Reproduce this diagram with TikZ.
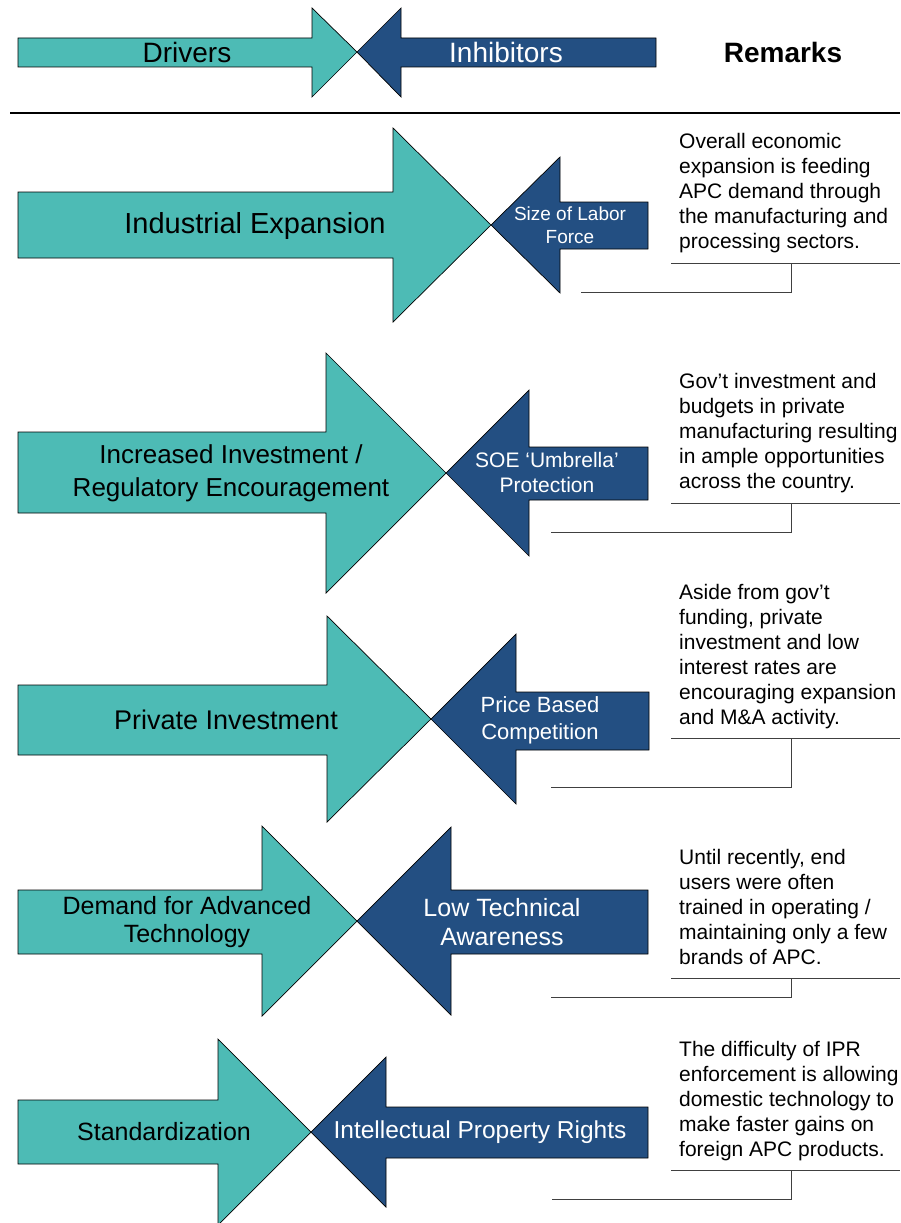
\documentclass[tikz,border=0pt]{standalone}
\usepackage{fontspec}
\setmainfont{Liberation Sans}
\usepackage{xcolor}
\usepackage{tikz}
\usetikzlibrary{positioning}

\definecolor{drvteal}{RGB}{77,187,181}
\definecolor{inhnavy}{RGB}{35,79,130}

\begin{document}
\begin{tikzpicture}[
    x=1pt, y=-1pt,
    drvshape/.style={fill=drvteal, draw=black, line width=0.7pt, line join=miter},
    inhshape/.style={fill=inhnavy, draw=black, line width=0.7pt, line join=miter},
    drvlabel/.style={text=black, align=center, inner sep=0},
    inhlabel/.style={text=white, align=center, inner sep=0},
    remark/.style={anchor=north west, align=left, inner sep=0, font=\fontsize{21}{25}\selectfont},
    bracket/.style={draw=black!75, line width=1pt}
]
    \useasboundingbox (0,0) rectangle (900,1223);

    % header
    \draw[drvshape] (18,38) -- (312,38) -- (312,8) -- (357,52) -- (312,97) -- (312,67) -- (18,67) -- cycle;
    \draw[inhshape] (656,38) -- (401,38) -- (401,8) -- (357,52) -- (401,97) -- (401,67) -- (656,67) -- cycle;
    \node[drvlabel, font=\fontsize{28}{30}\selectfont] (drivers) at (187,52) {Drivers};
    \node[inhlabel, font=\fontsize{28}{30}\selectfont] (inhibitors) at (506,52) {Inhibitors};
    \node[font=\fontsize{28}{30}\selectfont\bfseries, inner sep=0] (remarks) at (783,52) {Remarks};
    \draw[line width=1.2pt] (10,113) -- (900,113);

    % industrial expansion
    \draw[drvshape] (18,192) -- (393,192) -- (393,128) -- (491,225) -- (393,322) -- (393,258) -- (18,258) -- cycle;
    \draw[inhshape] (648,202) -- (560,202) -- (560,157) -- (491,225) -- (560,293) -- (560,249) -- (648,249) -- cycle;
    \node[drvlabel, font=\fontsize{29}{32}\selectfont] (industry) at (255,226) {Industrial Expansion};
    \node[inhlabel, font=\fontsize{19}{23}\selectfont] (labor) at (570,225) {Size of Labor\\Force};
    \node[remark] (remindustry) at (679,133) {Overall economic\\expansion is feeding\\APC demand through\\the manufacturing and\\processing sectors.};
    \draw[bracket] (671,263) -- (900,263) (791,263) -- (791,292) -- (581,292);

    % investment / regulation
    \draw[drvshape] (18,432) -- (326,432) -- (326,353) -- (446,473) -- (326,593) -- (326,513) -- (18,513) -- cycle;
    \draw[inhshape] (648,447) -- (529,447) -- (529,390) -- (446,473) -- (529,556) -- (529,500) -- (648,500) -- cycle;
    \node[drvlabel, font=\fontsize{26}{33}\selectfont] (regul) at (231,473) {Increased Investment /\\Regulatory Encouragement};
    \node[inhlabel, font=\fontsize{21}{25}\selectfont] (soe) at (547,472) {SOE `Umbrella'\\Protection};
    \node[remark] (remregul) at (679,373) {Gov't investment and\\budgets in private\\manufacturing resulting\\in ample opportunities\\across the country.};
    \draw[bracket] (671,503) -- (900,503) (791,503) -- (791,532) -- (551,532);

    % private investment
    \draw[drvshape] (18,685) -- (327,685) -- (327,616) -- (431,719) -- (327,822) -- (327,755) -- (18,755) -- cycle;
    \draw[inhshape] (649,692) -- (516,692) -- (516,634) -- (431,719) -- (516,804) -- (516,750) -- (649,750) -- cycle;
    \node[drvlabel, font=\fontsize{27}{30}\selectfont] (private) at (226,720) {Private Investment};
    \node[inhlabel, font=\fontsize{22}{27}\selectfont] (price) at (540,720) {Price Based\\Competition};
    \node[remark] (remprivate) at (679,584) {Aside from gov't\\funding, private\\investment and low\\interest rates are\\encouraging expansion\\and M\&A activity.};
    \draw[bracket] (671,738) -- (900,738) (791,738) -- (791,787) -- (551,787);

    % advanced technology
    \draw[drvshape] (18,890) -- (262,890) -- (262,826) -- (357,921) -- (262,1016) -- (262,954) -- (18,954) -- cycle;
    \draw[inhshape] (648,890) -- (451,890) -- (451,827) -- (357,921) -- (451,1015) -- (451,954) -- (648,954) -- cycle;
    \node[drvlabel, font=\fontsize{25}{28}\selectfont] (advtech) at (187,922) {Demand for Advanced\\Technology};
    \node[inhlabel, font=\fontsize{25}{29}\selectfont] (aware) at (502,922) {Low Technical\\Awareness};
    \node[remark] (remadvtech) at (679,849) {Until recently, end\\users were often\\trained in operating /\\maintaining only a few\\brands of APC.};
    \draw[bracket] (671,978) -- (900,978) (791,978) -- (791,997) -- (551,997);

    % standardization
    \draw[drvshape] (18,1100) -- (218,1100) -- (218,1039) -- (311,1132) -- (218,1225) -- (218,1164) -- (18,1164) -- cycle;
    \draw[inhshape] (648,1107) -- (386,1107) -- (386,1057) -- (311,1132) -- (386,1207) -- (386,1158) -- (648,1158) -- cycle;
    \node[drvlabel, font=\fontsize{25}{28}\selectfont] (standard) at (164,1132) {Standardization};
    \node[inhlabel, font=\fontsize{24.5}{28}\selectfont] (ipr) at (480,1132) {Intellectual Property Rights};
    \node[remark] (remstandard) at (679,1041) {The difficulty of IPR\\enforcement is allowing\\domestic technology to\\make faster gains on\\foreign APC products.};
    \draw[bracket] (671,1170) -- (900,1170) (791,1170) -- (791,1199) -- (552,1199);
\end{tikzpicture}
\end{document}
